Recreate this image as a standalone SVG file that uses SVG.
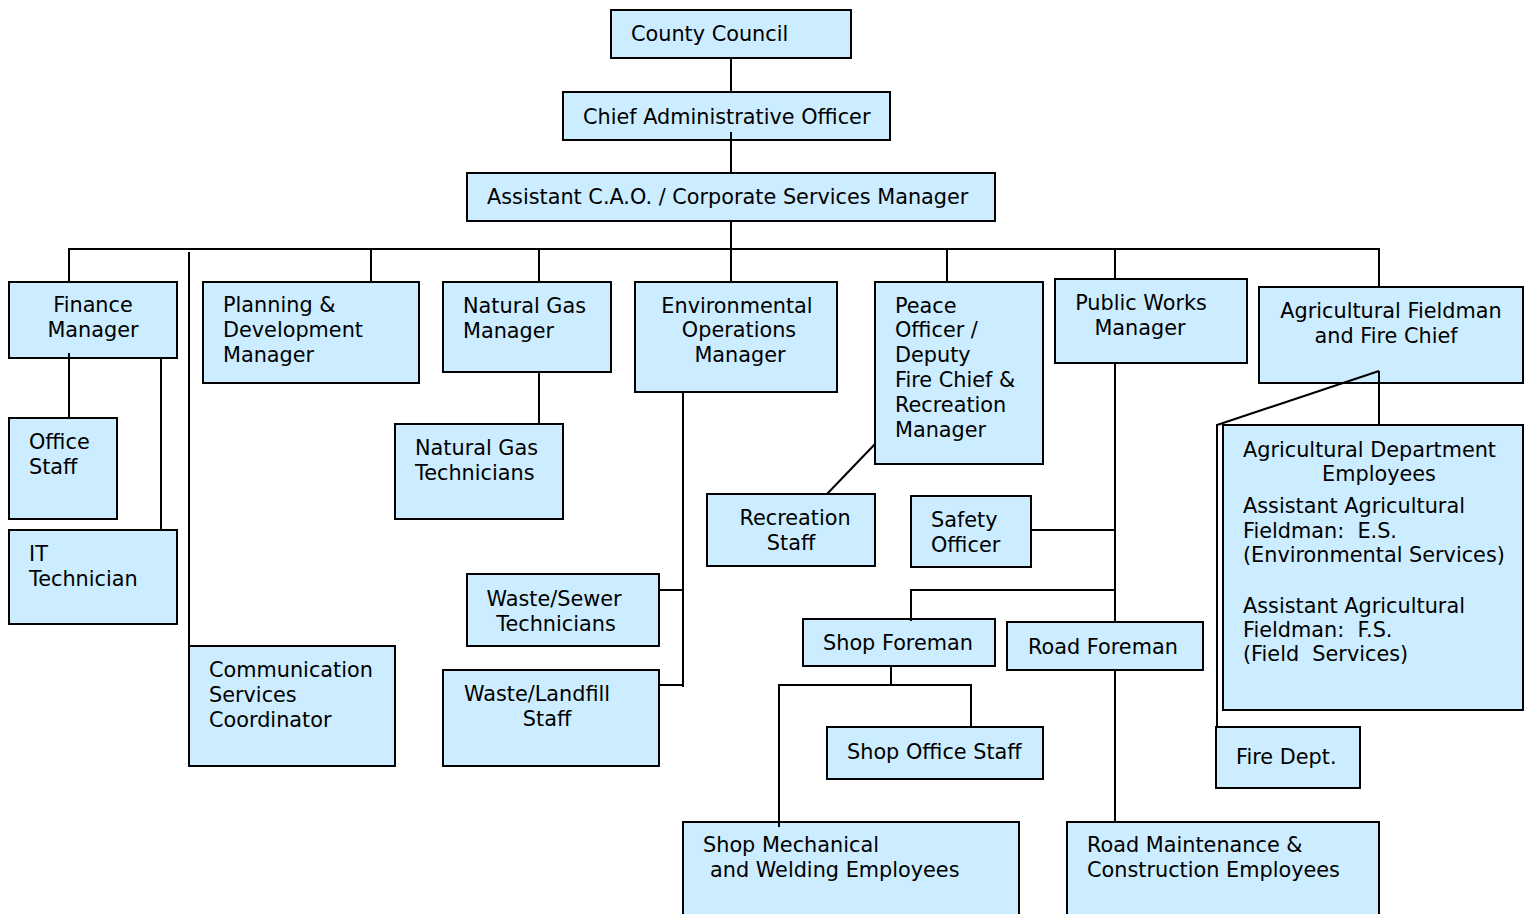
<svg xmlns="http://www.w3.org/2000/svg" width="1530" height="914" viewBox="0 0 1530 914">
<style>
rect{fill:#CCECFF;stroke:#000;stroke-width:2}
text{font-family:"DejaVu Sans",Verdana,sans-serif;font-size:20.8px;fill:#000}
.c{text-anchor:middle}
#connectors line{stroke:#000;stroke-width:2}
</style>
<rect x="0" y="0" width="1530" height="914" style="fill:#fff;stroke:none"/>
<g id="county-council"><rect x="611" y="10" width="240" height="48"/><text x="631" y="41">County Council</text></g>
<g id="cao"><rect x="563" y="92" width="327" height="48"/><text x="583" y="124">Chief Administrative Officer</text></g>
<g id="assistant-cao"><rect x="467" y="173" width="528" height="48"/><text x="487" y="204">Assistant C.A.O. / Corporate Services Manager</text></g>
<g id="finance"><rect x="9" y="282" width="168" height="76"/><text class="c" x="93" y="312">Finance</text><text class="c" x="93" y="337">Manager</text></g>
<g id="planning"><rect x="203" y="282" width="216" height="101"/><text x="223" y="312">Planning &amp;</text><text x="223" y="337">Development</text><text x="223" y="362">Manager</text></g>
<g id="natural-gas-manager"><rect x="443" y="282" width="168" height="90"/><text x="463" y="313">Natural Gas</text><text x="463" y="338">Manager</text></g>
<g id="environmental"><rect x="635" y="282" width="202" height="110"/><text class="c" x="737" y="313">Environmental</text><text class="c" x="739" y="337">Operations</text><text class="c" x="740" y="362">Manager</text></g>
<g id="peace-officer"><rect x="875" y="282" width="168" height="182"/><text x="895" y="313">Peace</text><text x="895" y="337">Officer /</text><text x="895" y="362">Deputy</text><text x="895" y="387">Fire Chief &amp;</text><text x="895" y="412">Recreation</text><text x="895" y="437">Manager</text></g>
<g id="public-works"><rect x="1055" y="279" width="192" height="84"/><text class="c" x="1141" y="310">Public Works</text><text class="c" x="1140" y="335">Manager</text></g>
<g id="ag-fieldman"><rect x="1259" y="287" width="264" height="96"/><text class="c" x="1391" y="318">Agricultural Fieldman</text><text class="c" x="1386" y="343">and Fire Chief</text></g>
<g id="office-staff"><rect x="9" y="418" width="108" height="101"/><text x="29" y="449">Office</text><text x="29" y="474">Staff</text></g>
<g id="it-technician"><rect x="9" y="530" width="168" height="94"/><text x="29" y="561">IT</text><text x="29" y="586">Technician</text></g>
<g id="natural-gas-technicians"><rect x="395" y="424" width="168" height="95"/><text x="415" y="455">Natural Gas</text><text x="415" y="480">Technicians</text></g>
<g id="communication"><rect x="189" y="646" width="206" height="120"/><text x="209" y="677">Communication</text><text x="209" y="702">Services</text><text x="209" y="727">Coordinator</text></g>
<g id="waste-sewer"><rect x="467" y="574" width="192" height="72"/><text class="c" x="554" y="606">Waste/Sewer</text><text class="c" x="556" y="631">Technicians</text></g>
<g id="waste-landfill"><rect x="443" y="670" width="216" height="96"/><text class="c" x="537" y="701">Waste/Landfill</text><text class="c" x="547" y="726">Staff</text></g>
<g id="recreation-staff"><rect x="707" y="494" width="168" height="72"/><text class="c" x="795" y="525">Recreation</text><text class="c" x="791" y="550">Staff</text></g>
<g id="safety-officer"><rect x="911" y="496" width="120" height="71"/><text x="931" y="527">Safety</text><text x="931" y="552">Officer</text></g>
<g id="shop-foreman"><rect x="803" y="619" width="192" height="47"/><text x="823" y="650">Shop Foreman</text></g>
<g id="road-foreman"><rect x="1007" y="622" width="196" height="48"/><text x="1028" y="654">Road Foreman</text></g>
<g id="shop-office-staff"><rect x="827" y="727" width="216" height="52"/><text x="847" y="759">Shop Office Staff</text></g>
<g id="shop-mechanical"><rect x="683" y="822" width="336" height="100"/><text x="703" y="852">Shop Mechanical</text><text x="710" y="877">and Welding Employees</text></g>
<g id="road-maintenance"><rect x="1067" y="822" width="312" height="100"/><text x="1087" y="852">Road Maintenance &amp;</text><text x="1087" y="877">Construction Employees</text></g>
<g id="ag-dept"><rect x="1223" y="425" width="300" height="285"/><text x="1243" y="457">Agricultural Department</text><text class="c" x="1379" y="481">Employees</text><text x="1243" y="513">Assistant Agricultural</text><text x="1243" y="538" xml:space="preserve">Fieldman:  E.S.</text><text x="1243" y="562">(Environmental Services)</text><text x="1243" y="613">Assistant Agricultural</text><text x="1243" y="637" xml:space="preserve">Fieldman:  F.S.</text><text x="1243" y="661" xml:space="preserve">(Field  Services)</text></g>
<g id="fire-dept"><rect x="1216" y="727" width="144" height="61"/><text x="1236" y="764">Fire Dept.</text></g>
<g id="connectors">
<line x1="731" y1="58" x2="731" y2="92"/>
<line x1="731" y1="132" x2="731" y2="173"/>
<line x1="731" y1="221" x2="731" y2="249"/>
<line x1="68" y1="249" x2="1380" y2="249"/>
<line x1="69" y1="249" x2="69" y2="282"/>
<line x1="371" y1="249" x2="371" y2="282"/>
<line x1="539" y1="249" x2="539" y2="282"/>
<line x1="731" y1="249" x2="731" y2="282"/>
<line x1="947" y1="249" x2="947" y2="282"/>
<line x1="1115" y1="249" x2="1115" y2="279"/>
<line x1="1379" y1="249" x2="1379" y2="287"/>
<line x1="189" y1="252" x2="189" y2="646"/>
<line x1="69" y1="353" x2="69" y2="418"/>
<line x1="161" y1="358" x2="161" y2="531"/>
<line x1="539" y1="372" x2="539" y2="424"/>
<line x1="683" y1="392" x2="683" y2="687"/>
<line x1="659" y1="590" x2="683" y2="590"/>
<line x1="659" y1="685" x2="683" y2="685"/>
<line x1="875" y1="444" x2="827" y2="494"/>
<line x1="1115" y1="363" x2="1115" y2="622"/>
<line x1="1031" y1="530" x2="1115" y2="530"/>
<line x1="910" y1="590" x2="1115" y2="590"/>
<line x1="911" y1="589" x2="911" y2="621"/>
<line x1="1115" y1="670" x2="1115" y2="822"/>
<line x1="891" y1="666" x2="891" y2="685"/>
<line x1="778" y1="685" x2="972" y2="685"/>
<line x1="971" y1="685" x2="971" y2="727"/>
<line x1="779" y1="685" x2="779" y2="827"/>
<line x1="1379" y1="371" x2="1379" y2="425"/>
<line x1="1379" y1="371" x2="1217" y2="425"/>
<line x1="1217" y1="424" x2="1217" y2="727"/>
</g>
</svg>
